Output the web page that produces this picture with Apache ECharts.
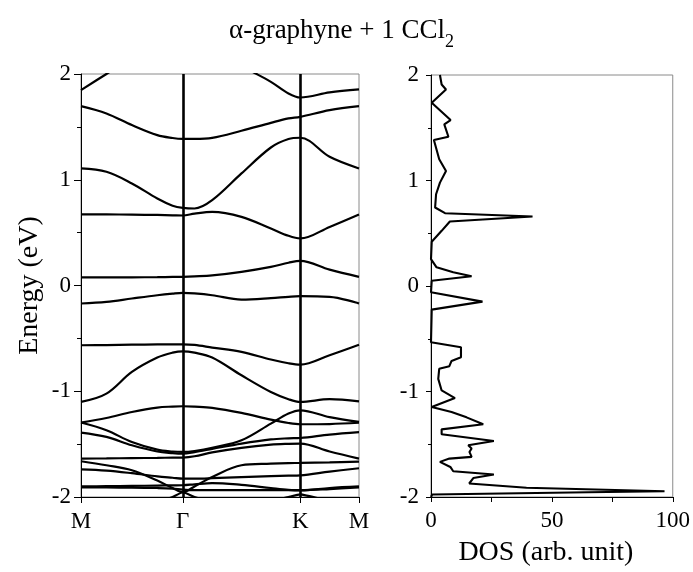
<!DOCTYPE html>
<html>
<head>
<meta charset="utf-8">
<script src="https://cdn.jsdelivr.net/npm/echarts@6/dist/echarts.min.js"></script>
<style>
html,body{margin:0;padding:0;background:#fff;}
#c{width:693px;height:572px;}
</style>
</head>
<body>
<div id="c"></div>
<script>
// ---- k-path (M - Γ - K - M) ----
var kTicks = [0, 1, 2.155, 2.732];
var kLabels = ['M', 'Γ', 'K', 'M'];
var kGrid = [0, 0.25, 0.5, 0.75, 0.9, 1, 1.1155, 1.289, 1.577, 1.866, 2.039, 2.155, 2.443, 2.732];

// ---- band energies (eV) at kGrid ----
var band1  = [1.848, 2.0, 2.15, 2.28, 2.32, 2.33, 2.32, 2.28, 2.08, 1.926, 1.816, 1.778, 1.826, 1.855];
var band2  = [1.696, 1.627, 1.517, 1.422, 1.395, 1.387, 1.387, 1.396, 1.463, 1.538, 1.580, 1.595, 1.658, 1.696];
var band3  = [1.107, 1.075, 0.965, 0.823, 0.755, 0.734, 0.728, 0.807, 1.060, 1.305, 1.385, 1.397, 1.217, 1.107];
var band4  = [0.672, 0.672, 0.670, 0.667, 0.664, 0.662, 0.680, 0.696, 0.649, 0.539, 0.470, 0.445, 0.554, 0.672];
var band5  = [0.076, 0.076, 0.077, 0.079, 0.081, 0.082, 0.086, 0.095, 0.129, 0.176, 0.215, 0.233, 0.150, 0.082];
var band6  = [-0.170, -0.155, -0.123, -0.092, -0.077, -0.070, -0.075, -0.092, -0.133, -0.120, -0.107, -0.101, -0.107, -0.170];
var band7  = [-0.565, -0.563, -0.560, -0.557, -0.556, -0.556, -0.562, -0.587, -0.628, -0.700, -0.735, -0.748, -0.659, -0.560];
var band8  = [-1.101, -1.022, -0.817, -0.681, -0.635, -0.622, -0.635, -0.681, -0.849, -1.007, -1.075, -1.101, -1.075, -1.095];
var band9  = [-1.296, -1.253, -1.196, -1.154, -1.145, -1.142, -1.146, -1.157, -1.205, -1.268, -1.300, -1.312, -1.310, -1.298];
var band10 = [-1.296, -1.369, -1.480, -1.552, -1.570, -1.574, -1.565, -1.535, -1.464, -1.306, -1.211, -1.180, -1.245, -1.290];
var band11 = [-1.391, -1.432, -1.511, -1.570, -1.585, -1.590, -1.575, -1.545, -1.495, -1.455, -1.445, -1.442, -1.410, -1.387];
var band12 = [-1.637, -1.635, -1.632, -1.630, -1.628, -1.627, -1.615, -1.578, -1.535, -1.505, -1.497, -1.495, -1.570, -1.637];
var band13 = [-1.662, -1.700, -1.747, -1.845, -1.915, -1.955, -1.900, -1.810, -1.700, -1.685, -1.679, -1.678, -1.672, -1.665];
var band14 = [-1.738, -1.750, -1.775, -1.805, -1.818, -1.826, -1.826, -1.822, -1.812, -1.803, -1.798, -1.795, -1.760, -1.728];
var band15 = [-1.900, -1.898, -1.895, -1.892, -1.890, -1.889, -1.880, -1.868, -1.885, -1.915, -1.932, -1.937, -1.915, -1.900];
var band16 = [-1.910, -1.910, -1.912, -1.915, -1.920, -1.930, -1.935, -1.935, -1.935, -1.935, -1.935, -1.935, -1.925, -1.910];
var band17 = [-2.08, -2.07, -2.06, -2.05, -2.00, -1.955, -2.00, -2.05, -2.07, -2.04, -2.00, -1.975, -2.04, -2.08];

var bands = [band1, band2, band3, band4, band5, band6, band7, band8, band9,
             band10, band11, band12, band13, band14, band15, band16, band17];

// ---- DOS (arb. unit) vs energy (eV) ----
var dosE = [2.0, 1.91, 1.863, 1.737, 1.573, 1.532, 1.415, 1.384, 1.201, 1.09, 0.98, 0.87, 0.744, 0.69, 0.659, 0.612,
            0.523, 0.419, 0.255, 0.177, 0.13, 0.092, 0.05, -0.06, -0.148, -0.224, -0.533, -0.58, -0.675, -0.71,
            -0.76, -0.785, -0.88, -0.99, -1.062, -1.147, -1.195, -1.245, -1.311, -1.359, -1.406, -1.469, -1.51,
            -1.54, -1.573, -1.62, -1.636, -1.667, -1.715, -1.756, -1.787, -1.82, -1.872, -1.913, -1.945, -1.955,
            -1.976, -2.0];
var dosV = [3.7, 4.4, 6.2, 0.3, 8.1, 5.5, 7.2, 1.2, 3.4, 6.2, 3.7, 2.1, 1.7, 5.8, 42.0, 7.8,
            4.4, 0.3, 0, 2.3, 9.2, 16.8, 0.3, 0, 21.3, 0.3, 0, 12.4, 12.4, 8.5,
            7.6, 3.4, 3.0, 4.4, 9.9, 0.3, 8.5, 14.7, 21.6, 4.4, 4.4, 26.0, 15.4,
            16.8, 15.9, 16.8, 7.6, 3.7, 8.0, 9.2, 26.0, 17.5, 15.8, 39.5, 96.6, 65,
            0.5, 0];

var eTicks = [-2, -1, 0, 1, 2];

var FONT = "'Liberation Serif', 'DejaVu Serif', serif";
var black = '#000';

var series = bands.map(function (b, bi) {
  var s = {
    type: 'line',
    xAxisIndex: 0, yAxisIndex: 0,
    data: kGrid.map(function (k, i) { return [k, b[i]]; }),
    smooth: bi === 16 ? 0.15 : 0.35,
    showSymbol: false,
    silent: true,
    clip: true,
    lineStyle: { color: black, width: 2.2 },
    z: 3
  };
  if (bi === 0) {
    s.markLine = {
      silent: true,
      symbol: ['none', 'none'],
      label: { show: false },
      lineStyle: { color: black, width: 2.6, type: 'solid' },
      data: [{ xAxis: kTicks[1] }, { xAxis: kTicks[2] }]
    };
  }
  return s;
});

series.push({
  type: 'line',
  xAxisIndex: 1, yAxisIndex: 1,
  data: dosE.map(function (e, i) { return [dosV[i], e]; }),
  showSymbol: false,
  silent: true,
  smooth: false,
  lineStyle: { color: black, width: 2.1 },
  z: 3
});

var chart = echarts.init(document.getElementById('c'), null, { renderer: 'canvas' });
chart.setOption({
  animation: false,
  backgroundColor: '#fff',
  title: {
    text: '{m|α-graphyne + 1 CCl}{s|2}',
    left: 229, top: 11, padding: 0,
    textStyle: {
      fontWeight: 'normal',
      rich: {
        m: { fontFamily: FONT, fontSize: 27, fontWeight: 'normal', color: black, lineHeight: 40, verticalAlign: 'middle' },
        s: { fontFamily: FONT, fontSize: 18, fontWeight: 'normal', color: black, lineHeight: 18, verticalAlign: 'bottom' }
      }
    }
  },
  grid: [
    { left: 81, top: 74, width: 278, height: 423, show: true, borderColor: '#8a8a8a', borderWidth: 1, backgroundColor: 'transparent' },
    { left: 431, top: 75, width: 243, height: 424, show: true, borderColor: '#8a8a8a', borderWidth: 1, backgroundColor: 'transparent' }
  ],
  xAxis: [
    {
      gridIndex: 0, type: 'value', min: kTicks[0], max: kTicks[3],
      axisLine: { show: true, onZero: false, lineStyle: { color: black, width: 1 } },
      axisTick: { show: true, inside: false, length: 6, customValues: kTicks, lineStyle: { color: black } },
      axisLabel: {
        customValues: kTicks, margin: 13, fontFamily: FONT, fontSize: 23, color: black,
        formatter: function (v) {
          for (var i = 0; i < kTicks.length; i++) if (Math.abs(kTicks[i] - v) < 1e-6) return kLabels[i];
          return '';
        }
      },
      splitLine: { show: false }
    },
    {
      gridIndex: 1, type: 'value', min: 0, max: 100, interval: 25,
      axisLine: { show: true, onZero: false, lineStyle: { color: black, width: 1 } },
      axisTick: { show: true, inside: false, length: 5, lineStyle: { color: black } },
      axisLabel: {
        margin: 12, fontFamily: FONT, fontSize: 23, color: black,
        formatter: function (v) { return v % 50 === 0 ? String(v) : ''; }
      },
      splitLine: { show: false },
      name: 'DOS (arb. unit)', nameLocation: 'middle', nameGap: 42,
      nameTextStyle: { fontFamily: FONT, fontSize: 28, color: black, padding: [0, 12, 0, 0] }
    }
  ],
  yAxis: [
    {
      gridIndex: 0, type: 'value', min: eTicks[0], max: eTicks[4], interval: 1,
      axisLine: { show: true, onZero: false, lineStyle: { color: black, width: 1 } },
      axisTick: { show: true, inside: false, length: 7, lineStyle: { color: black } },
      minorTick: { show: true, splitNumber: 2, length: 4, lineStyle: { color: black } },
      axisLabel: { margin: 10, fontFamily: FONT, fontSize: 23, color: black },
      splitLine: { show: false },
      name: 'Energy (eV)', nameLocation: 'middle', nameRotate: 90, nameGap: 37,
      nameTextStyle: { fontFamily: FONT, fontSize: 28, color: black }
    },
    {
      gridIndex: 1, type: 'value', min: eTicks[0], max: eTicks[4], interval: 1,
      axisLine: { show: true, onZero: false, lineStyle: { color: black, width: 1 } },
      axisTick: { show: true, inside: false, length: 5, lineStyle: { color: black } },
      minorTick: { show: true, splitNumber: 2, length: 3, lineStyle: { color: black } },
      axisLabel: { margin: 12, fontFamily: FONT, fontSize: 23, color: black },
      splitLine: { show: false }
    }
  ],
  series: series
});
</script>
</body>
</html>
